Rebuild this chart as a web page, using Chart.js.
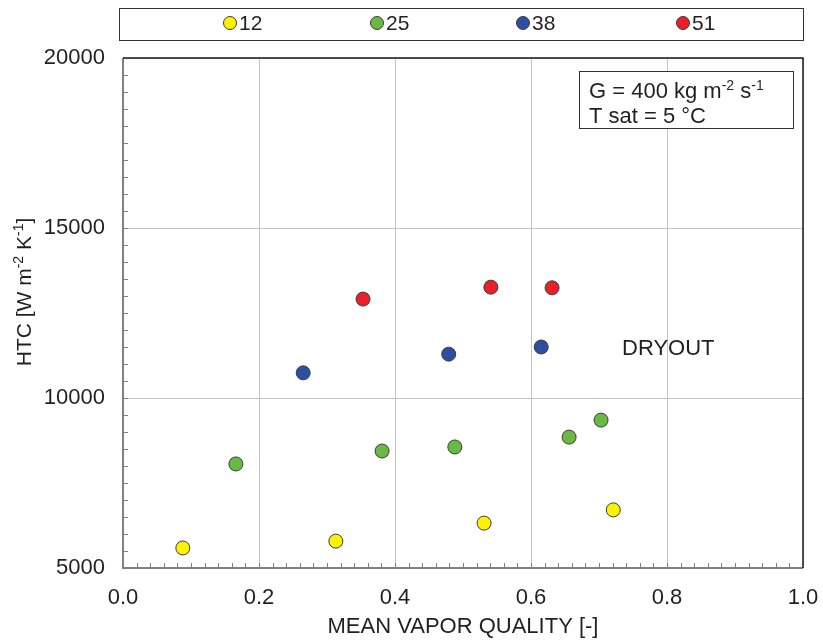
<!DOCTYPE html>
<html><head><meta charset="utf-8">
<script src="https://cdn.jsdelivr.net/npm/chart.js@4"></script>
<style>html,body{margin:0;padding:0;background:#fff}#wrap{width:823px;height:640px}</style>
</head><body><div id="wrap"><canvas id="c" width="823" height="640"></canvas></div>
<script>
// ---- data ----
const seriesLabels = ['12', '25', '38', '51'];
const seriesColors = ['#fff200', '#6ab945', '#2d4fa2', '#e8202a'];
const quality12 = [0.088, 0.313, 0.531, 0.721];
const htc12     = [5590, 5790, 6320, 6710];
const quality25 = [0.166, 0.381, 0.488, 0.656, 0.703];
const htc25     = [8060, 8440, 8560, 8850, 9350];
const quality38 = [0.265, 0.479, 0.615];
const htc38     = [10740, 11290, 11500];
const quality51 = [0.353, 0.541, 0.631];
const htc51     = [12910, 13260, 13240];
const xTickValues = [0.0, 0.2, 0.4, 0.6, 0.8, 1.0];
const yTickValues = [5000, 10000, 15000, 20000];
const xTitle = 'MEAN VAPOR QUALITY [-]';
const dryoutLabel = 'DRYOUT';

const qualities = [quality12, quality25, quality38, quality51];
const htcs = [htc12, htc25, htc38, htc51];

const FONT = 'Arial, "Liberation Sans", sans-serif';
const TXT = '#231f20';

const datasets = seriesLabels.map((lab, i) => ({
  label: lab,
  data: qualities[i].map((q, j) => ({x: q, y: htcs[i][j]})),
  backgroundColor: seriesColors[i],
  borderColor: '#3a3a3a',
  borderWidth: 1,
  pointRadius: 7,
  pointHoverRadius: 7
}));

function richWidth(ctx, parts, size, supSize) {
  let w = 0;
  for (const p of parts) {
    ctx.font = (p.sup ? supSize : size) + 'px ' + FONT;
    w += ctx.measureText(p.t).width;
  }
  return w;
}
function drawRich(ctx, parts, x, y, size, supSize) {
  let cx = x;
  ctx.textBaseline = 'alphabetic';
  ctx.textAlign = 'left';
  for (const p of parts) {
    ctx.font = (p.sup ? supSize : size) + 'px ' + FONT;
    ctx.fillText(p.t, cx, p.sup ? y - size * 0.38 : y);
    cx += ctx.measureText(p.t).width;
  }
}

const decor = {
  id: 'decor',
  afterDatasetsDraw(chart) {
    const ctx = chart.ctx;
    const a = chart.chartArea;
    const xs = chart.scales.x, ys = chart.scales.y;
    ctx.save();
    // minor ticks (inward)
    ctx.strokeStyle = '#808080';
    ctx.lineWidth = 1;
    ctx.beginPath();
    for (let k = 1; k < 50; k++) {
      const px = Math.round(xs.getPixelForValue(k * 0.02)) + 0.5;
      ctx.moveTo(px, a.bottom); ctx.lineTo(px, a.bottom - 5);
    }
    for (let k = 1; k < 30; k++) {
      const py = Math.round(ys.getPixelForValue(5000 + k * 500)) + 0.5;
      ctx.moveTo(a.left, py); ctx.lineTo(a.left + 5, py);
    }
    ctx.stroke();
    // frame
    ctx.strokeStyle = '#808080';
    ctx.lineWidth = 2;
    ctx.beginPath();
    ctx.moveTo(a.left, a.top); ctx.lineTo(a.left, a.bottom); ctx.lineTo(a.right, a.bottom);
    ctx.stroke();
    ctx.strokeStyle = '#1a1a1a';
    ctx.lineWidth = 1.5;
    ctx.beginPath();
    ctx.moveTo(a.left, a.top); ctx.lineTo(a.right, a.top); ctx.lineTo(a.right, a.bottom);
    ctx.stroke();

    // annotation box
    const bx = 579, by = 71, bw = 214, bh = 57;
    ctx.fillStyle = '#fff';
    ctx.fillRect(bx, by, bw, bh);
    ctx.strokeStyle = '#333';
    ctx.lineWidth = 1;
    ctx.strokeRect(bx + 0.5, by + 0.5, bw, bh);
    ctx.fillStyle = TXT;
    drawRich(ctx, [{t:'G = 400 kg m'}, {t:'-2', sup:true}, {t:' s'}, {t:'-1', sup:true}], 589, 98, 22, 14);
    drawRich(ctx, [{t:'T sat = 5 °C'}], 589, 123, 22, 14);

    // DRYOUT
    ctx.font = '22px ' + FONT;
    ctx.textAlign = 'left';
    ctx.textBaseline = 'alphabetic';
    ctx.fillText(dryoutLabel, 622, 355);

    // y title (rotated, rich)
    const yParts = [{t:'HTC [W m'}, {t:'-2', sup:true}, {t:' K'}, {t:'-1', sup:true}, {t:']'}];
    const w = richWidth(ctx, yParts, 21, 14);
    ctx.save();
    ctx.translate(31, 292);
    ctx.rotate(-Math.PI / 2);
    drawRich(ctx, yParts, -w / 2, 0, 21, 14);
    ctx.restore();

    // x title
    ctx.font = '22px ' + FONT;
    ctx.textAlign = 'center';
    ctx.fillText(xTitle, (a.left + a.right) / 2, 633);

    // legend
    ctx.strokeStyle = '#333';
    ctx.lineWidth = 1;
    ctx.strokeRect(119.5, 8.5, 684, 32);
    const legendCenters = [230, 377, 523, 683];
    chart.data.datasets.forEach((ds, i) => {
      const cx = legendCenters[i];
      ctx.beginPath();
      ctx.arc(cx, 23, 6.5, 0, Math.PI * 2);
      ctx.fillStyle = ds.backgroundColor;
      ctx.fill();
      ctx.strokeStyle = '#3a3a3a';
      ctx.lineWidth = 1;
      ctx.stroke();
      ctx.fillStyle = TXT;
      ctx.font = '21px ' + FONT;
      ctx.textAlign = 'left';
      ctx.textBaseline = 'middle';
      ctx.fillText(ds.label, cx + 9, 24);
    });
    ctx.restore();
  }
};

new Chart(document.getElementById('c'), {
  type: 'scatter',
  data: { datasets },
  options: {
    responsive: false,
    devicePixelRatio: 1,
    animation: false,
    layout: { padding: { left: 0, top: 58, right: 20, bottom: 0 } },
    plugins: { legend: { display: false }, tooltip: { enabled: false } },
    scales: {
      x: {
        type: 'linear', min: 0, max: 1,
        afterFit: s => { s.height = 72; s.paddingLeft = 0; s.paddingRight = 0; },
        afterBuildTicks: s => { s.ticks = xTickValues.map(v => ({value: v})); },
        ticks: { callback: v => Number(v).toFixed(1), font: { family: FONT, size: 22 }, color: TXT, padding: 17, maxRotation: 0 },
        grid: { color: '#c4c4c4', lineWidth: 1, drawTicks: false },
        border: { display: false }
      },
      y: {
        type: 'linear', min: 5000, max: 20000,
        afterFit: s => { s.width = 123; s.paddingTop = 0; s.paddingBottom = 0; },
        afterBuildTicks: s => { s.ticks = yTickValues.map(v => ({value: v})); },
        ticks: { callback: v => String(v), font: { family: FONT, size: 22 }, color: TXT, padding: 18 },
        grid: { color: '#c4c4c4', lineWidth: 1, drawTicks: false },
        border: { display: false }
      }
    }
  },
  plugins: [decor]
});
</script>
</body></html>
